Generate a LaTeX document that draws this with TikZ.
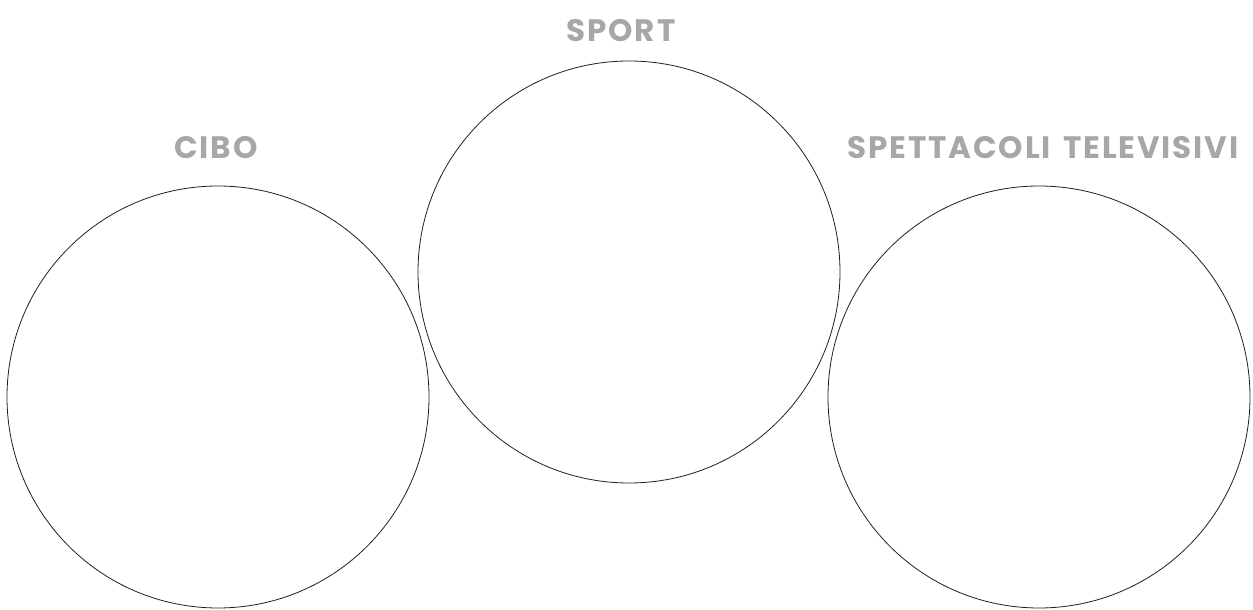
\documentclass[tikz,border=0pt]{standalone}
\usepackage{fontspec}
\setmainfont{Poppins}
\newfontfamily\handfont[LetterSpace=6]{Poppins}
\usepackage{tikz}
\usetikzlibrary{positioning}
\definecolor{ring}{RGB}{30, 30, 30}
\definecolor{labelgray}{RGB}{167, 167, 170}

\begin{document}
\begin{tikzpicture}[x=1pt, y=1pt,
	topic/.style={circle, draw=ring, line width=0.8pt, minimum size=422pt, inner sep=0pt},
	title/.style={text=labelgray, font=\handfont\fontsize{31}{32}\selectfont\bfseries, inner sep=0pt}]
		\useasboundingbox (0,0) rectangle (1253,610);
		% the three circles
		\node[topic] (cibo) at (218,213) {};
		\node[topic] (sport) at (629,338) {};
		\node[topic] (tv) at (1039,213) {};
		% titles above them
		\node[title, above=27pt of cibo, xshift=-2pt] (cibolabel) {CIBO};
		\node[title, above=19pt of sport, xshift=-8pt] (sportlabel) {SPORT};
		\node[title, above=27pt of tv, xshift=4pt] (tvlabel) {SPETTACOLI\hspace{4pt} TELEVISIVI};
	\end{tikzpicture}
\end{document}
